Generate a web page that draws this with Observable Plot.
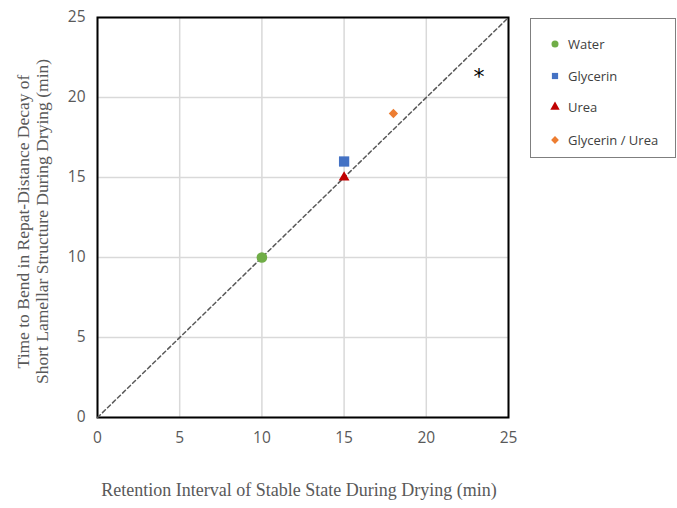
<!DOCTYPE html>
<html>
<head>
<meta charset="utf-8">
<script src="https://cdn.jsdelivr.net/npm/d3@7"></script>
<script src="https://cdn.jsdelivr.net/npm/@observablehq/plot@0.6"></script>
<style>
  html, body { margin: 0; padding: 0; background: #fff; }
  #wrap { position: relative; width: 677px; height: 508px; }
  #legend { position: absolute; left: 530px; top: 18px; width: 146px; height: 140px;
    border: 1px solid #7f7f7f; box-sizing: border-box; font-family: "Open Sans", sans-serif; font-size: 13px; color: #404040; }
  .item { position: absolute; left: 16px; display: flex; align-items: center; height: 16px; }
  .item svg { width: 16px; height: 16px; margin-right: 5px; }
</style>
</head>
<body>
<div id="wrap"><div id="legend"></div></div>
<script>
const series = ["Water", "Glycerin", "Urea", "Glycerin / Urea"];
const xValues = [10, 15, 15, 18];
const yValues = [10, 16, 15, 19];
const colors = ["#70AD47", "#4472C4", "#C00000", "#ED7D31"];
const symbols = ["circle", "square", "triangle", "diamond2"];
const sizes = [5.3, 5.8, 4, 4.2];
const ticks = [0, 5, 10, 15, 20, 25];
const identity = [0, 25];
const star = {x: 23.2, y: 21.3, label: "*"};
const xTitle = "Retention Interval of Stable State During Drying (min)";
const yTitle = "Time to Bend in Repat-Distance Decay of\nShort Lamellar Structure During Drying (min)";

const data = series.map((s, i) => ({s, x: xValues[i], y: yValues[i], c: colors[i], sym: symbols[i], r: sizes[i]}));

const chart = Plot.plot({
  width: 677, height: 508,
  marginLeft: 97, marginRight: 169, marginTop: 17, marginBottom: 91,
  style: {fontFamily: "'Open Sans', sans-serif", fontSize: "15.5px", color: "#595959", background: "#fff"},
  x: {domain: [0, 25], ticks: ticks, tickSize: 0, tickPadding: 14, label: null},
  y: {domain: [0, 25], ticks: ticks, tickSize: 0, tickPadding: 12, label: null},
  r: {type: "identity"},
  marks: [
    Plot.gridX(ticks, {stroke: "#d9d9d9", strokeOpacity: 1, strokeWidth: 1.5}),
    Plot.gridY(ticks, {stroke: "#d9d9d9", strokeOpacity: 1, strokeWidth: 1.5}),
    Plot.frame({stroke: "#000", strokeWidth: 2}),
    Plot.line(identity.map(v => ({x: v, y: v})), {x: "x", y: "y", stroke: "#595959", strokeWidth: 1.5, strokeDasharray: "4,3"}),
    Plot.dot(data, {x: "x", y: "y", fill: d => d.c, symbol: d => d.sym, r: d => d.r, stroke: "none"}),
    Plot.text([star], {x: "x", y: "y", text: "label", fontSize: 22, fill: "#000", fontFamily: "DejaVu Sans"}),
    Plot.text([xTitle], {text: d => d, frameAnchor: "bottom", dy: 78, dx: -4, fontFamily: "'Liberation Serif', serif", fontSize: 18, fill: "#595959"}),
    Plot.text([yTitle], {text: d => d, frameAnchor: "left", textAnchor: "middle", dx: -65, dy: 4, rotate: -90, lineHeight: 1.1, lineAnchor: "middle", fontFamily: "'Liberation Serif', serif", fontSize: 17.5, fill: "#595959"})
  ]
});
chart.style.display = "block";
document.getElementById("wrap").prepend(chart);

const legend = document.getElementById("legend");
const tops = [17, 49, 80, 113];
data.forEach((d, i) => {
  const item = document.createElement("div");
  item.className = "item";
  item.style.top = tops[i] + "px";
  const shape = {circle: d3.symbolCircle, square: d3.symbolSquare, triangle: d3.symbolTriangle, diamond2: d3.symbolDiamond2}[d.sym];
  const path = d3.symbol(shape, Math.PI * 3.5 * 3.5)();
  item.innerHTML = `<svg viewBox="-8 -8 16 16"><path d="${path}" fill="${d.c}"/></svg><span>${d.s}</span>`;
  legend.appendChild(item);
});
</script>
</body>
</html>
